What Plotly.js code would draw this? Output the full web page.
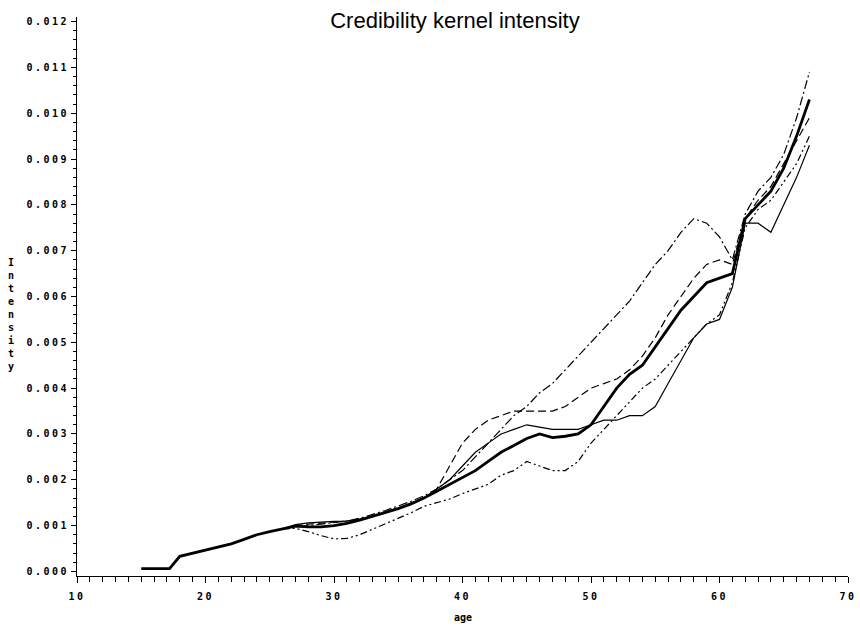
<!DOCTYPE html>
<html><head><meta charset="utf-8">
<script src="https://cdn.plot.ly/plotly-3.0.1.min.js"></script>
<style>
html,body{margin:0;padding:0;background:#fff}
.xtick text, .ytick text {letter-spacing:2.5px;}
</style>
</head><body><div id="chart" style="width:860px;height:631px"></div>
<script>
const ages = [15,17.2,18,19,20,21,22,23,24,25,26,27,28,29,30,31,32,33,34,35,36,37,38,39,40,41,42,43,44,45,46,47,48,49,50,51,52,53,54,55,56,57,58,59,60,61,62,63,64,65,66,67];

const thickLine = [0.00006,0.00006,0.00033,0.0004,0.00046,0.00053,0.0006,0.0007,0.0008,0.00087,0.00093,0.00099,0.00097,0.00097,0.001,0.00105,0.00112,0.0012,0.00128,0.00137,0.00147,0.0016,0.00175,0.0019,0.00205,0.0022,0.0024,0.0026,0.00275,0.0029,0.003,0.00292,0.00295,0.003,0.0032,0.0036,0.004,0.0043,0.0045,0.0049,0.0053,0.0057,0.006,0.0063,0.0064,0.0065,0.0077,0.008,0.0083,0.0088,0.0095,0.0103];

const thinSolid = [null,null,null,null,null,null,null,null,null,null,0.00093,0.00102,0.00106,0.00108,0.00109,0.0011,0.00113,0.0012,0.00129,0.00139,0.0015,0.0016,0.0018,0.002,0.0023,0.0026,0.0028,0.003,0.0031,0.0032,0.00315,0.0031,0.0031,0.0031,0.0032,0.0033,0.0033,0.0034,0.0034,0.0036,0.0041,0.0046,0.0051,0.0054,0.0055,0.0062,0.0076,0.0076,0.0074,0.008,0.0086,0.0093];

const kinkedDash = [null,null,null,null,null,null,null,null,null,null,0.00093,0.001,0.00103,0.00105,0.00107,0.0011,0.00114,0.0012,0.00128,0.00138,0.00148,0.0016,0.0018,0.0023,0.0028,0.0031,0.0033,0.0034,0.0035,0.0035,0.0035,0.0035,0.0036,0.0038,0.004,0.0041,0.0042,0.0044,0.0047,0.0051,0.0056,0.006,0.0064,0.0067,0.0068,0.0067,0.0077,0.0081,0.0084,0.0089,0.0094,0.0099];

const peakDashDot = [null,null,null,null,null,null,null,null,null,null,0.00093,0.00098,0.001,0.00103,0.00106,0.0011,0.00116,0.00124,0.00133,0.00143,0.00153,0.00165,0.0018,0.002,0.0022,0.0025,0.0028,0.0031,0.0034,0.0036,0.0039,0.0041,0.0044,0.0047,0.005,0.0053,0.0056,0.0059,0.0063,0.0067,0.007,0.0074,0.0077,0.0076,0.0073,0.0068,0.0078,0.0083,0.0086,0.0091,0.0099,0.0109];

const lowDashDot = [null,null,null,null,null,null,null,null,null,null,0.00093,0.00094,0.00087,0.00078,0.00071,0.00072,0.0008,0.00092,0.00105,0.00117,0.00128,0.00142,0.0015,0.00158,0.0017,0.0018,0.0019,0.0021,0.0022,0.0024,0.0023,0.0022,0.0022,0.0024,0.0028,0.0031,0.0034,0.0037,0.004,0.0042,0.0045,0.0048,0.0051,0.0054,0.0056,0.0063,0.0075,0.0079,0.0081,0.0085,0.0089,0.0095];

const yTickVals = [0,0.001,0.002,0.003,0.004,0.005,0.006,0.007,0.008,0.009,0.010,0.011,0.012];
const yTickText = ['0.000','0.001','0.002','0.003','0.004','0.005','0.006','0.007','0.008','0.009','0.010','0.011','0.012'];
const xTickVals = [10,20,30,40,50,60,70];
const xTickText = ['10','20','30','40','50','60','70'];

const tickFont = {family:'DejaVu Sans Mono, monospace', size:10, color:'#000', weight:'bold'};

const traces = [
  {x: ages, y: kinkedDash, mode:'lines', line:{color:'#000', width:1.2, dash:'8px,4px'}, hoverinfo:'skip'},
  {x: ages, y: peakDashDot, mode:'lines', line:{color:'#000', width:1.2, dash:'9px,3px,2px,3px'}, hoverinfo:'skip'},
  {x: ages, y: lowDashDot, mode:'lines', line:{color:'#000', width:1.2, dash:'7px,3px,2px,3px,2px,3px'}, hoverinfo:'skip'},
  {x: ages, y: thinSolid, mode:'lines', line:{color:'#000', width:1.2}, hoverinfo:'skip'},
  {x: ages, y: thickLine, mode:'lines', line:{color:'#000', width:2.8}, hoverinfo:'skip'}
];

const layout = {
  width:860, height:631,
  margin:{l:77, r:12, t:17, b:55},
  paper_bgcolor:'#fff', plot_bgcolor:'#fff',
  showlegend:false,
  title:{text:'Credibility kernel intensity', font:{family:'Liberation Sans, Arial, sans-serif', size:22, color:'#000'},
         x:0.529, xanchor:'center', y:0.968, yanchor:'middle'},
  xaxis:{range:[10,70], showline:true, linecolor:'#000', linewidth:1, showgrid:false, zeroline:false,
         tickmode:'array', tickvals:xTickVals, ticktext:xTickText, ticks:'outside', ticklen:6, tickcolor:'#000', tickwidth:1,
         tickfont:tickFont, ticklabelstandoff:5,
         minor:{dtick:1, tick0:10, ticks:'outside', ticklen:5, tickcolor:'#000', tickwidth:1, showgrid:false}},
  yaxis:{range:[-0.0001,0.0121], showline:true, linecolor:'#000', linewidth:1, showgrid:false, zeroline:false,
         tickmode:'array', tickvals:yTickVals, ticktext:yTickText, ticks:'outside', ticklen:5, tickcolor:'#000', tickwidth:1,
         tickfont:tickFont,
         minor:{dtick:0.0002, tick0:0, ticks:'outside', ticklen:3, tickcolor:'#000', tickwidth:1, showgrid:false}},
  annotations:[
    {text:'age', xref:'paper', yref:'paper', x:0.5, y:-0.075, xanchor:'center', yanchor:'middle', showarrow:false, font:tickFont},
    {text:'I<br>n<br>t<br>e<br>n<br>s<br>i<br>t<br>y', xref:'paper', yref:'paper', x:-0.0856, y:0.467, xanchor:'center', yanchor:'middle', showarrow:false, font:tickFont}
  ]
};

Plotly.newPlot('chart', traces, layout, {staticPlot:true, displayModeBar:false});
</script>
</body></html>
